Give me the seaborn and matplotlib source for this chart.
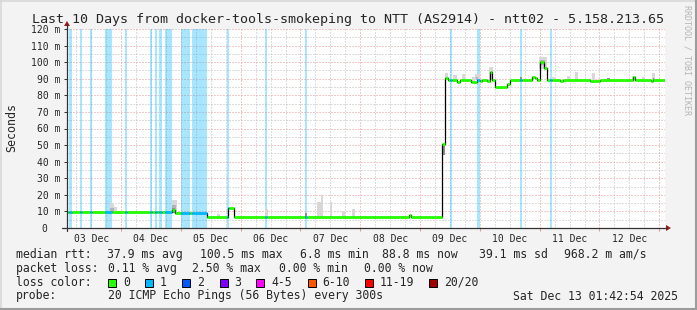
import matplotlib
matplotlib.use("Agg")
import matplotlib.pyplot as plt
import seaborn as sns
import pandas as pd
from matplotlib.patches import Rectangle, Polygon
from matplotlib.lines import Line2D

# ---------------- data (time = hours since 2025-12-03 00:00) ----------------
view_start_h = 2.3
view_end_h = 242.3

median_hours = [2.3, 44.27, 45.47, 58.51, 66.74, 69.35, 139.57, 140.38, 152.62, 154.02,
                155.23, 158.84, 160.05, 164.46, 166.67, 168.07, 168.87, 170.88, 171.88, 172.88,
                173.89, 178.70, 180.11, 188.74, 190.14, 190.74, 191.95, 193.87, 194.84, 200.17,
                201.38, 212.21, 216.22, 229.26, 230.27, 236.69, 237.49, 242.3]
median_ms = [9.6, 10.8, 9.3, 6.8, 12.0, 6.8, 8.0, 6.8, 50.5, 90.3,
             89.3, 88.2, 89.3, 88.2, 89.2, 88.6, 89.2, 88.4, 94.0, 89.2,
             84.8, 86.8, 89.2, 91.0, 90.3, 89.2, 100.3, 96.5, 89.0, 88.5,
             89.0, 88.8, 89.0, 90.8, 89.0, 88.5, 89.0, 89.0]

loss_start_h = [3.2, 7.55, 11.56, 17.7, 25.5, 35.8, 37.6, 39.4, 41.7, 47.9, 52.5,
                66.5, 81.9, 97.7, 156.0, 166.9, 184.1, 196.2]
loss_end_h = [4.33, 8.35, 12.36, 20.4, 26.3, 36.6, 38.3, 40.3, 44.5, 51.5, 58.5,
              67.5, 82.7, 98.5, 156.8, 168.1, 184.9, 197.0]

smoke_start_h = [19.59, 20.99, 19.59, 44.27, 44.27, 44.47, 62.32, 81.79, 97.64, 102.45,
                 104.38, 107.87, 112.57, 116.50, 152.70, 154.02, 157.23, 160.72, 164.74, 166.06,
                 166.46, 171.68, 184.12, 191.74, 192.14, 196.84, 202.86, 206.19, 212.89, 218.91,
                 228.94, 232.95, 236.97, 237.29]
smoke_end_h = [20.99, 22.39, 20.99, 46.27, 46.07, 45.67, 63.53, 82.79, 98.44, 104.38,
               105.18, 108.79, 113.89, 117.70, 154.02, 155.23, 158.84, 162.05, 166.06, 168.07,
               167.27, 173.16, 184.81, 194.84, 194.14, 198.16, 204.19, 207.39, 214.22, 220.23,
               230.27, 234.28, 238.30, 237.69]
smoke_low_ms = [9.6, 9.6, 9.6, 9.3, 9.3, 9.3, 6.8, 6.8, 6.8, 6.8,
                6.8, 6.8, 6.8, 6.8, 44.0, 89.0, 89.0, 89.0, 88.2, 89.0,
                89.0, 89.0, 89.0, 96.0, 98.0, 89.0, 89.0, 89.0, 89.0, 89.0,
                89.0, 89.0, 89.0, 89.0]
smoke_high_ms = [15.0, 12.5, 12.0, 17.0, 14.0, 12.0, 8.6, 11.3, 8.8, 15.8,
                 19.9, 15.8, 10.4, 11.3, 50.5, 93.2, 92.2, 92.8, 91.2, 92.8,
                 90.8, 97.2, 91.2, 103.0, 101.5, 91.2, 91.8, 94.2, 93.6, 90.3,
                 91.6, 91.2, 93.6, 90.5]
smoke_level = [1, 1, 2, 1, 2, 3, 1, 1, 3, 1,
               1, 1, 1, 1, 3, 1, 1, 1, 1, 1,
               2, 1, 3, 1, 2, 1, 1, 1, 1, 3,
               1, 1, 1, 3]

day_label_hours = [12, 36, 60, 84, 108, 132, 156, 180, 204, 228]
day_labels = ["03 Dec", "04 Dec", "05 Dec", "06 Dec", "07 Dec",
              "08 Dec", "09 Dec", "10 Dec", "11 Dec", "12 Dec"]
y_ticks = list(range(0, 121, 10))
y_tick_labels = ["0  "] + [f"{v} m" for v in range(10, 121, 10)]

title = "Last 10 Days from docker-tools-smokeping to NTT (AS2914) - ntt02 - 5.158.213.65"
rtt_fields = ["median rtt:", "37.9 ms avg", "100.5 ms max", "6.8 ms min", "88.8 ms now",
              "39.1 ms sd", "968.2 m am/s"]
loss_fields = ["packet loss:", "0.11 % avg", "2.50 % max", "0.00 % min", "0.00 % now"]
loss_color_names = ["0", "1", "2", "3", "4-5", "6-10", "11-19", "20/20"]
loss_color_values = ["#26ff00", "#00b8ff", "#0059ff", "#7e00ff", "#ff00ff",
                     "#ff5500", "#ff0000", "#a10000"]
probe_fields = ["probe:", "20 ICMP Echo Pings (56 Bytes) every 300s", "Sat Dec 13 01:42:54 2025"]

# ---------------- layout / style ----------------
W, H = 697, 310
MONO = "DejaVu Sans Mono"
sns.set_style("white")
plt.rcParams["font.family"] = [MONO]

BG = "#f3f3f3"
GRID_MINOR = "#bdbdbd"
GRID_MAJOR = "#e59494"
AXIS = "#333333"
ARROW = "#9a1b1b"
SMOKE = {1: "#d8d8d8", 2: "#b4b4b4", 3: "#8c8c8c"}


def fx(x):
    return x / W


def fy(y):
    return 1 - y / H


fig = plt.figure(figsize=(W / 100, H / 100), dpi=100, facecolor=BG)
ax = fig.add_axes([fx(67), fy(228), 598 / W, 199 / H])
ax.set_facecolor("white")
ax.set_xlim(view_start_h, view_end_h)
ax.set_ylim(0, 120)
for s in ax.spines.values():
    s.set_visible(False)

# grid
for v in range(5, 121, 5):
    ax.axhline(v, color=GRID_MAJOR if v % 10 == 0 else GRID_MINOR, lw=0.72,
               ls=(0, (1, 2)), zorder=1)
h = 6
while h < view_end_h:
    if h > view_start_h:
        ax.axvline(h, color=GRID_MAJOR if h % 24 == 0 else GRID_MINOR, lw=0.72,
                   ls=(0, (1, 2)), zorder=1)
    h += 6

# loss background bands (translucent loss colour over the grid)
for s, e in zip(loss_start_h, loss_end_h):
    ax.axvspan(s, e, facecolor=loss_color_values[1], alpha=0.34, edgecolor="none",
               lw=0, zorder=1.5)

# smoke
for s, e, lo, hi, lv in zip(smoke_start_h, smoke_end_h, smoke_low_ms, smoke_high_ms, smoke_level):
    ax.bar(s, hi - lo, width=e - s, bottom=lo, align="edge", color=SMOKE[lv],
           lw=0, zorder=2)

# black median step line
df = pd.DataFrame({"hours": median_hours, "median": median_ms})
sns.lineplot(data=df, x="hours", y="median", drawstyle="steps-post", color="black",
             lw=0.9, estimator=None, ax=ax, zorder=3)

# loss-coloured median strip
bounds = sorted(set(median_hours) | {b for b in loss_start_h + loss_end_h
                                     if view_start_h < b < view_end_h})
seg_y, seg_x0, seg_x1, seg_c = [], [], [], []
for a, b in zip(bounds[:-1], bounds[1:]):
    idx = max(i for i, t in enumerate(median_hours) if t <= a)
    mid = (a + b) / 2
    lossy = any(s <= mid <= e for s, e in zip(loss_start_h, loss_end_h))
    seg_y.append(median_ms[idx])
    seg_x0.append(a)
    seg_x1.append(b)
    seg_c.append(loss_color_values[1] if lossy else loss_color_values[0])
ax.hlines(seg_y, seg_x0, seg_x1, colors=seg_c, lw=2.0, zorder=4)

# ticks
ax.set_yticks(y_ticks)
ax.set_yticklabels(y_tick_labels, fontsize=7, family=MONO)
ax.tick_params(axis="y", which="major", direction="out", length=2.2, width=0.72,
               color=AXIS, pad=2.8, left=True)
ax.set_xticks(day_label_hours)
ax.set_xticklabels(day_labels, fontsize=7, family=MONO)
ax.tick_params(axis="x", which="major", length=0, pad=4.0)
ax.set_xticks([d for d in range(24, 242, 24)], minor=True)
ax.tick_params(axis="x", which="minor", direction="out", length=2.2, width=0.72,
               color=GRID_MAJOR, bottom=True)
ax.set_xlabel("")
ax.set_ylabel("")

# axis lines and arrows (figure pixels)
fig.add_artist(Line2D([fx(67), fx(67)], [fy(231), fy(25)], color=AXIS, lw=0.9))
fig.add_artist(Line2D([fx(62), fx(667)], [fy(228), fy(228)], color=AXIS, lw=0.9))
fig.add_artist(Polygon([[fx(64), fy(26)], [fx(70), fy(26)], [fx(67), fy(21)]],
                       closed=True, color=ARROW, lw=0))
fig.add_artist(Polygon([[fx(666), fy(225)], [fx(666), fy(231)], [fx(671), fy(228)]],
                       closed=True, color=ARROW, lw=0))

# frame of the image
fig.add_artist(Line2D([0, 1], [fy(0.5), fy(0.5)], color="#d8d8d8", lw=1.2))
fig.add_artist(Line2D([fx(0.5), fx(0.5)], [0, 1], color="#d8d8d8", lw=1.2))
fig.add_artist(Line2D([0, 1], [fy(309), fy(309)], color="#9c9c9c", lw=1.5))
fig.add_artist(Line2D([fx(696), fx(696)], [0, 1], color="#9c9c9c", lw=1.5))

# texts
fig.text(fx(348), fy(19.5), title, ha="center", va="center", fontsize=9.6, family=MONO)
fig.text(fx(11.7), fy(127.5), "Seconds", rotation=90, ha="center", va="center",
         fontsize=8.4, family=MONO)
fig.text(fx(687), fy(60), "RRDTOOL / TOBI OETIKER", rotation=-90, ha="center", va="center",
         fontsize=6, family=MONO, color="#b4b4b4")

rtt_x = [16, 106.7, 200, 300, 382, 479, 564]
for x, t in zip(rtt_x, rtt_fields):
    fig.text(fx(x), fy(254.3), t, ha="left", va="center", fontsize=8.3, family=MONO)
loss_x = [16, 107.5, 192, 279, 364]
for x, t in zip(loss_x, loss_fields):
    fig.text(fx(x), fy(268.3), t, ha="left", va="center", fontsize=8.3, family=MONO)
fig.text(fx(16), fy(282.3), "loss color:", ha="left", va="center", fontsize=8.3, family=MONO)
box_x = [108, 145, 182, 219.5, 256.4, 307.6, 365, 429]
for x, name, col in zip(box_x, loss_color_names, loss_color_values):
    fig.add_artist(Rectangle((fx(x), fy(286.5)), 8 / W, 8 / H, facecolor=col,
                             edgecolor="black", lw=0.7))
    fig.text(fx(x + 15), fy(282.3), name, ha="left", va="center", fontsize=8.3, family=MONO)
probe_x = [16, 107.5, 513]
for x, t in zip(probe_x, probe_fields):
    fig.text(fx(x), fy(296), t, ha="left", va="center", fontsize=8.3, family=MONO)

fig.savefig("out.png", dpi=100, facecolor=BG)
